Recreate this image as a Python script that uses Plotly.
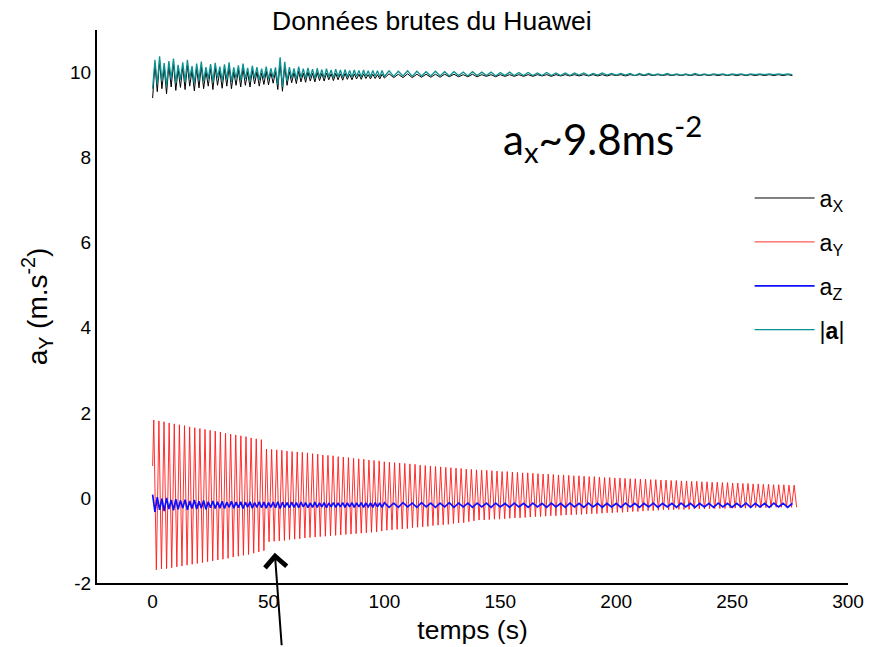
import plotly.graph_objects as go

# ---------------- data ----------------
# a_Y : successive peaks and troughs of the damped oscillation
ay_t0 = 0.5          # time of first peak (s)
ay_period = 2.21     # oscillation period (s)
ay_start = 0.75      # value at t = 0
ay_peaks = [1.83, 1.81, 1.79, 1.76, 1.74, 1.72, 1.70, 1.67, 1.65, 1.63,
            1.61, 1.59, 1.57, 1.55, 1.52, 1.50, 1.48, 1.46, 1.44, 1.41, 1.39,
            1.37,
            1.15, 1.14, 1.13, 1.12, 1.10, 1.09, 1.08, 1.07, 1.06,
            1.04, 1.03, 1.01, 1.00, 0.99, 0.97, 0.96, 0.95, 0.93, 0.92, 0.91, 0.89, 0.88, 0.87, 0.85,
            0.84, 0.83, 0.82, 0.81, 0.80, 0.79, 0.77, 0.76, 0.75, 0.74, 0.73, 0.72, 0.71, 0.70, 0.69, 0.68, 0.67, 0.66,
            0.65, 0.65, 0.64, 0.63, 0.62, 0.62, 0.61, 0.60, 0.59, 0.59, 0.58, 0.57, 0.56, 0.56, 0.55, 0.54, 0.54, 0.53,
            0.52, 0.52, 0.51, 0.50, 0.50, 0.49, 0.48, 0.48, 0.47, 0.47, 0.46, 0.45, 0.45, 0.44, 0.44, 0.43, 0.43, 0.42,
            0.42, 0.41, 0.41, 0.40, 0.40, 0.39, 0.39, 0.38, 0.38, 0.37, 0.37, 0.36, 0.36, 0.35, 0.35, 0.34, 0.34, 0.33,
            0.33, 0.32, 0.32, 0.31, 0.31, 0.31, 0.30, 0.30]
ay_troughs = [-1.69, -1.67, -1.66, -1.64, -1.62, -1.60, -1.58, -1.56, -1.54, -1.52,
              -1.50, -1.48, -1.46, -1.44, -1.42, -1.39, -1.37, -1.35, -1.33, -1.30, -1.27,
              -1.24,
              -1.03, -1.02, -1.01, -1.00, -0.98, -0.97, -0.96, -0.94, -0.93,
              -0.92, -0.91, -0.90, -0.89, -0.88, -0.87, -0.86, -0.85, -0.84, -0.83, -0.82, -0.81, -0.80, -0.78, -0.76,
              -0.75, -0.74, -0.73, -0.72, -0.70, -0.69, -0.68, -0.67, -0.65, -0.64, -0.63, -0.62, -0.60, -0.59, -0.58, -0.56, -0.54, -0.52,
              -0.52, -0.51, -0.50, -0.50, -0.49, -0.48, -0.47, -0.47, -0.46, -0.45, -0.44, -0.44, -0.43, -0.42, -0.42, -0.41, -0.40, -0.40,
              -0.39, -0.39, -0.38, -0.37, -0.37, -0.36, -0.35, -0.35, -0.34, -0.34, -0.33, -0.32, -0.32, -0.31, -0.30, -0.30, -0.29, -0.28,
              -0.28, -0.28, -0.27, -0.27, -0.27, -0.26, -0.26, -0.26, -0.25, -0.25, -0.25, -0.25, -0.24, -0.24, -0.24, -0.24, -0.23, -0.23,
              -0.23, -0.23, -0.22, -0.22, -0.22, -0.22, -0.22, -0.22]

# noisy channels: sampled every 1 s from 0 to 99 s, then every 2 s to 276 s
t_noise = list(range(0, 100, 1)) + list(range(100, 278, 2))
a_mod = [9.62, 10.30, 9.72, 10.38, 9.80, 10.22, 9.68, 10.27, 9.85, 10.33,
         9.75, 10.18, 9.83, 10.24, 9.78, 10.30, 9.86, 10.15, 9.74, 10.21,
         9.82, 10.26, 9.79, 10.13, 9.85, 10.20, 9.77, 10.23, 9.88, 10.14,
         9.80, 10.19, 9.84, 10.24, 9.78, 10.12, 9.86, 10.17, 9.81, 10.21,
         9.85, 10.11, 9.80, 10.16, 9.87, 10.13, 9.82, 10.09, 9.86, 10.14,
         9.84, 10.10, 9.88, 10.12, 9.72, 10.36, 9.66, 10.25, 9.80, 10.13,
         9.87, 10.10, 9.84, 10.14, 9.88, 10.09, 9.86, 10.11, 9.89, 10.08,
         9.86, 10.10, 9.89, 10.07, 9.87, 10.09, 9.90, 10.06, 9.88, 10.08,
         9.90, 10.06, 9.88, 10.07, 9.90, 10.05, 9.89, 10.06, 9.91, 10.05,
         9.89, 10.06, 9.91, 10.04, 9.90, 10.05, 9.91, 10.04, 9.90, 10.05,
         9.91, 10.04, 9.91, 10.03, 9.92, 10.04, 9.91, 10.03, 9.92, 10.02,
         9.92, 10.03, 9.92, 10.02, 9.92, 10.02, 9.93, 10.01, 9.92, 10.02,
         9.93, 10.01, 9.93, 10.01, 9.92, 10.00, 9.93, 10.01, 9.93, 10.00,
         9.93, 10.00, 9.93, 9.99, 9.93, 10.00, 9.93, 9.99, 9.93, 9.99,
         9.93, 9.99, 9.94, 9.99, 9.93, 9.98, 9.94, 9.99, 9.94, 9.98,
         9.94, 9.98, 9.94, 9.98, 9.93, 9.98, 9.94, 9.98, 9.94, 9.97,
         9.94, 9.98, 9.94, 9.97, 9.94, 9.97, 9.94, 9.98, 9.94, 9.97,
         9.94, 9.97, 9.95, 9.97, 9.94, 9.97, 9.95, 9.97, 9.94, 9.97,
         9.95, 9.97, 9.95, 9.97, 9.95, 9.97, 9.95, 9.97, 9.95]
a_x = [9.40, 10.20, 9.55, 10.28, 9.62, 10.12, 9.50, 10.17, 9.66, 10.22,
       9.58, 10.08, 9.65, 10.14, 9.60, 10.18, 9.68, 10.05, 9.57, 10.10,
       9.64, 10.15, 9.62, 10.03, 9.68, 10.10, 9.60, 10.12, 9.70, 10.04,
       9.63, 10.08, 9.68, 10.13, 9.62, 10.02, 9.70, 10.06, 9.66, 10.10,
       9.70, 10.01, 9.66, 10.05, 9.73, 10.02, 9.68, 9.99, 9.72, 10.03,
       9.71, 10.00, 9.75, 10.02, 9.60, 10.25, 9.56, 10.14, 9.70, 10.02,
       9.76, 10.00, 9.74, 10.03, 9.78, 9.99, 9.77, 10.01, 9.80, 9.98,
       9.78, 10.00, 9.81, 9.98, 9.80, 9.99, 9.83, 9.97, 9.81, 9.98,
       9.83, 9.97, 9.82, 9.98, 9.84, 9.96, 9.83, 9.97, 9.85, 9.96,
       9.84, 9.97, 9.86, 9.95, 9.85, 9.96, 9.86, 9.95, 9.85, 9.96,
       9.87, 9.97, 9.88, 9.96, 9.88, 9.97, 9.88, 9.96, 9.89, 9.96,
       9.89, 9.96, 9.89, 9.96, 9.90, 9.96, 9.90, 9.95, 9.90, 9.96,
       9.90, 9.95, 9.91, 9.95, 9.90, 9.95, 9.91, 9.95, 9.91, 9.95,
       9.91, 9.95, 9.91, 9.95, 9.92, 9.95, 9.91, 9.95, 9.92, 9.95,
       9.92, 9.95, 9.92, 9.95, 9.92, 9.95, 9.92, 9.95, 9.92, 9.95,
       9.93, 9.95, 9.92, 9.95, 9.93, 9.95, 9.93, 9.95, 9.93, 9.95,
       9.93, 9.95, 9.93, 9.95, 9.93, 9.95, 9.93, 9.95, 9.93, 9.95,
       9.93, 9.95, 9.93, 9.95, 9.93, 9.95, 9.93, 9.95, 9.93, 9.95,
       9.93, 9.95, 9.93, 9.95, 9.93, 9.95, 9.93, 9.95, 9.93]
a_z = [0.08, -0.33, 0.02, -0.28, -0.02, -0.31, 0.00, -0.26, -0.05, -0.29,
       -0.03, -0.27, -0.06, -0.24, -0.04, -0.28, -0.07, -0.25, -0.05, -0.26,
       -0.08, -0.24, -0.06, -0.27, -0.09, -0.23, -0.07, -0.25, -0.09, -0.24,
       -0.08, -0.25, -0.10, -0.22, -0.08, -0.24, -0.10, -0.23, -0.09, -0.25,
       -0.10, -0.22, -0.09, -0.24, -0.11, -0.22, -0.09, -0.23, -0.10, -0.24,
       -0.11, -0.22, -0.10, -0.23, -0.09, -0.25, -0.10, -0.22, -0.11, -0.23,
       -0.10, -0.22, -0.11, -0.23, -0.10, -0.21, -0.11, -0.23, -0.12, -0.22,
       -0.10, -0.22, -0.12, -0.21, -0.11, -0.23, -0.12, -0.21, -0.11, -0.22,
       -0.12, -0.21, -0.11, -0.22, -0.12, -0.21, -0.11, -0.22, -0.12, -0.21,
       -0.11, -0.22, -0.12, -0.21, -0.12, -0.22, -0.11, -0.21, -0.12, -0.22,
       -0.11, -0.22, -0.12, -0.22, -0.11, -0.21, -0.12, -0.22, -0.11, -0.21,
       -0.12, -0.22, -0.12, -0.21, -0.11, -0.22, -0.12, -0.21, -0.12, -0.22,
       -0.12, -0.21, -0.12, -0.22, -0.12, -0.21, -0.13, -0.22, -0.12, -0.21,
       -0.13, -0.22, -0.12, -0.21, -0.13, -0.22, -0.12, -0.21, -0.13, -0.22,
       -0.12, -0.21, -0.13, -0.22, -0.12, -0.21, -0.13, -0.22, -0.13, -0.21,
       -0.13, -0.22, -0.12, -0.21, -0.13, -0.22, -0.13, -0.21, -0.12, -0.22,
       -0.13, -0.21, -0.13, -0.22, -0.12, -0.21, -0.13, -0.22, -0.13, -0.21,
       -0.13, -0.22, -0.12, -0.21, -0.13, -0.22, -0.13, -0.21, -0.12, -0.22,
       -0.13, -0.21, -0.13, -0.22, -0.12, -0.21, -0.13, -0.22, -0.13]

x_ticks = [0, 50, 100, 150, 200, 250, 300]
y_ticks = [-2, 0, 2, 4, 6, 8, 10]
y_tick_text = ["-2", "0", "2", "4", "6", "8", "10"]

# ---------------- build series ----------------
ay_t = [0.0]
ay_v = [ay_start]
for k, (p, q) in enumerate(zip(ay_peaks, ay_troughs)):
    ay_t += [ay_t0 + k * ay_period, ay_t0 + k * ay_period + ay_period / 2]
    ay_v += [p, q]

FONT = "Liberation Sans, Arial, sans-serif"

fig = go.Figure()
fig.add_trace(go.Scatter(x=t_noise, y=a_x, mode="lines", name="a<sub>X</sub>",
                         line=dict(color="black", width=1), legendgroup="1"))
fig.add_trace(go.Scatter(x=ay_t, y=ay_v, mode="lines", name="a<sub>Y</sub>",
                         line=dict(color="#ff1a1a", width=0.9), legendgroup="2"))
fig.add_trace(go.Scatter(x=t_noise, y=a_z, mode="lines", name="a<sub>Z</sub>",
                         line=dict(color="#1010ff", width=1.7), legendgroup="3"))
fig.add_trace(go.Scatter(x=t_noise, y=a_mod, mode="lines", name="|<b>a</b>|",
                         line=dict(color="#0a9090", width=1.3), legendgroup="4"))

fig.update_layout(
    width=869, height=647,
    margin=dict(l=97, r=21, t=30, b=64, autoexpand=False),
    paper_bgcolor="white", plot_bgcolor="white",
    font=dict(family=FONT, color="black"),
    title=dict(text="Données brutes du Huawei", font=dict(size=26.5, family=FONT),
               xref="container", x=0.497, xanchor="center",
               yref="container", y=0.968, yanchor="middle"),
    showlegend=True,
    legend=dict(x=0.869, y=0.735, xanchor="left", yanchor="top",
                font=dict(size=23, family=FONT), bgcolor="rgba(0,0,0,0)",
                traceorder="grouped", tracegroupgap=11, itemwidth=60),
    xaxis=dict(range=[-24, 300], tickvals=x_ticks, showgrid=False, zeroline=False,
               showline=True, linecolor="black", linewidth=2, ticks="",
               automargin=False,
               tickfont=dict(size=19, family=FONT),
               title=dict(text="temps (s)", font=dict(size=26.5, family=FONT), standoff=10)),
    yaxis=dict(range=[-2, 11], tickvals=y_ticks, ticktext=y_tick_text,
               showgrid=False, zeroline=False,
               showline=True, linecolor="black", linewidth=2, ticks="",
               automargin=False,
               tickfont=dict(size=19, family=FONT),
               title=dict(text="a<sub>Y</sub> (m.s<sup>-2</sup>)", font=dict(size=28, family=FONT),
                          standoff=14)),
)

fig.add_annotation(x=194, y=8.45, xref="x", yref="y",
                   text="a<sub>x</sub>~9.8ms<sup>-2</sup>", showarrow=False,
                   font=dict(size=42, family="Lato, Open Sans, sans-serif", color="black"))

fig.add_annotation(x=52.7, y=-1.29, xref="x", yref="y", text="",
                   showarrow=True, arrowhead=4, arrowsize=2.1, arrowwidth=2,
                   arrowcolor="black", ax=7, ay=94, standoff=0)

fig.write_html("out.html")
